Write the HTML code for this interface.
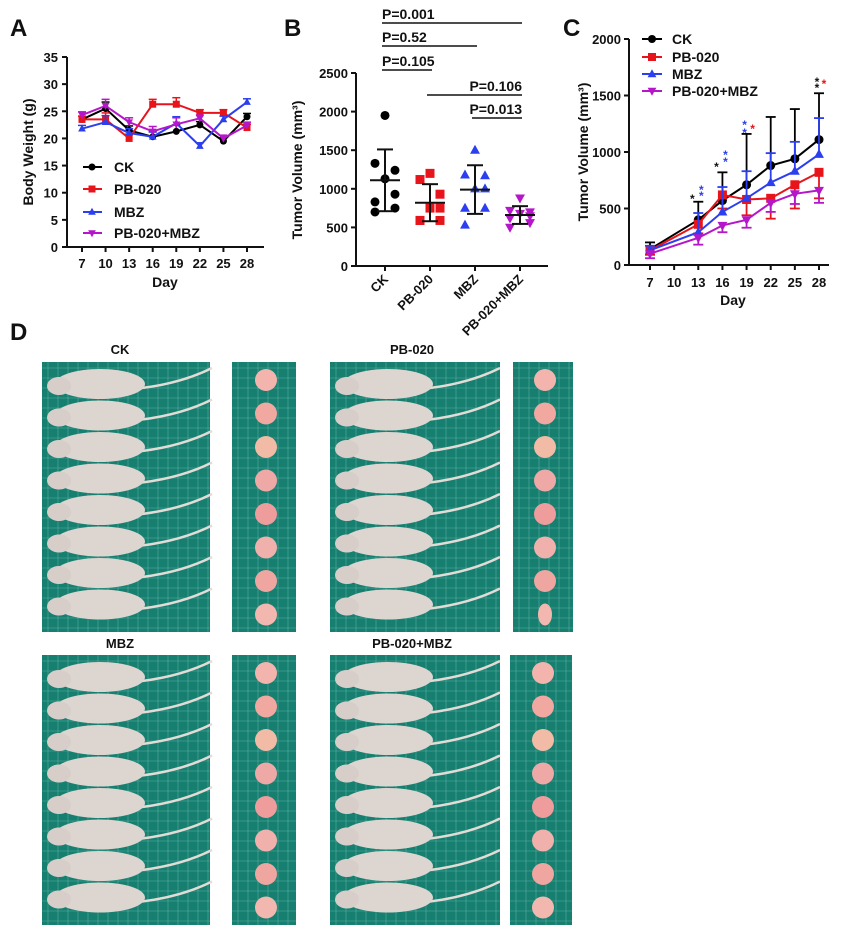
<!DOCTYPE html>
<html><head><meta charset="utf-8"><style>
body{margin:0;background:#fff}
svg text{font-family:"Liberation Sans",Arial,sans-serif;font-weight:bold;fill:#111}
</style></head><body>
<svg id="fig" width="844" height="933" viewBox="0 0 844 933" xmlns="http://www.w3.org/2000/svg">
<g id="pA"></g>
<g id="pB"></g>
<g id="pC"></g>
<g id="pD"></g>
</svg>
<script>
// ---- Panel A data
const daysA=[7,10,13,16,19,22,25,28];
const ytA=[0,5,10,15,20,25,30,35];
const bwCK=[23.5,25.5,21.5,20.3,21.3,22.5,19.5,24];
const bwPB=[23.5,23.5,20,26.3,26.3,24.7,24.7,22];
const bwMBZ=[21.8,23,21,20.3,22.8,18.6,23.5,26.7];
const bwCombo=[24.3,26,23,21.3,22.6,23.7,20,22.4];
const bwErr=[0.6,1.2,0.8,0.9,1.2,0.6,0.6,0.6];
// ---- Panel B data
const catsB=["CK","PB-020","MBZ","PB-020+MBZ"];
const ytB=[0,500,1000,1500,2000,2500];
const ptsCK=[1950,1330,1240,1130,930,830,750,700];
const ptsPB=[1200,1120,930,750,750,590,590,590];
const ptsMBZ=[1500,1180,1170,1000,1000,750,750,530];
const ptsCombo=[880,720,700,680,650,620,560,500];
const meanB=[1110,820,990,660];
const sdB=[400,240,315,115];
const pLabels=["P=0.001","P=0.52","P=0.105","P=0.106","P=0.013"];
const pPairs=[[0,3],[0,2],[0,1],[1,3],[2,3]];
// ---- Panel C data
const daysC=[7,13,16,19,22,25,28];
const xtC=[7,10,13,16,19,22,25,28];
const ytC=[0,500,1000,1500,2000];
const tvCK=[140,400,570,710,880,940,1110];
const tvPB=[130,360,620,580,590,710,820];
const tvMBZ=[130,290,470,590,730,830,980];
const tvCombo=[100,240,350,400,550,630,660];
const errCK=[60,160,250,450,430,440,410];
const errPB=[40,80,120,140,180,210,230];
const errMBZ=[40,170,220,240,260,260,320];
const errCombo=[40,60,60,70,80,90,110];

const NS="http://www.w3.org/2000/svg";
function mk(p,tag,a,txt){const e=document.createElementNS(NS,tag);for(const k in a)e.setAttribute(k,a[k]);if(txt!==undefined)e.textContent=txt;p.appendChild(e);return e;}
const colors={CK:"#000",PB:"#e8141b",MBZ:"#2b3ff0",Combo:"#b516c9"};
function marker(g,shape,x,y,c,s){
 let e;
 if(shape==="circle")e=mk(g,"circle",{cx:x,cy:y,r:s,fill:c});
 else if(shape==="square")e=mk(g,"rect",{x:x-s,y:y-s,width:2*s,height:2*s,fill:c});
 else if(shape==="tri")e=mk(g,"polygon",{points:`${x},${y-s*1.2} ${x-s*1.1},${y+s*0.8} ${x+s*1.1},${y+s*0.8}`,fill:c});
 else e=mk(g,"polygon",{points:`${x},${y+s*1.2} ${x-s*1.1},${y-s*0.8} ${x+s*1.1},${y-s*0.8}`,fill:c});
 
 
 return e;
}
const series=[["CK","circle"],["PB-020","square"],["MBZ","tri"],["PB-020+MBZ","tridown"]];
const sc=[colors.CK,colors.PB,colors.MBZ,colors.Combo];

// ===== Panel A
(function(){
 const g=document.getElementById('pA');
 const X=d=>82+(d-7)*(165/21), Y=v=>247-v*(190/35);
 mk(g,"text",{x:10,y:36,"font-size":24},"A");
 mk(g,"line",{x1:67,y1:57,x2:67,y2:247,stroke:"#111","stroke-width":2});
 mk(g,"line",{x1:66,y1:247,x2:264,y2:247,stroke:"#111","stroke-width":2});
 ytA.forEach(v=>{mk(g,"line",{x1:62,y1:Y(v),x2:67,y2:Y(v),stroke:"#111","stroke-width":2});
  mk(g,"text",{x:58,y:Y(v)+5,"font-size":13,"text-anchor":"end"},v);});
 daysA.forEach(d=>{mk(g,"line",{x1:X(d),y1:247,x2:X(d),y2:252,stroke:"#111","stroke-width":2});
  mk(g,"text",{x:X(d),y:268,"font-size":13,"text-anchor":"middle"},d);});
 mk(g,"text",{x:165,y:287,"font-size":14,"text-anchor":"middle"},"Day");
 mk(g,"text",{x:0,y:0,"font-size":14,"text-anchor":"middle",transform:"translate(33,152) rotate(-90)"},"Body Weight (g)");
 [bwCK,bwPB,bwMBZ,bwCombo].forEach((arr,i)=>{
  const s=mk(g,"g",{});
  
  
  mk(s,"polyline",{points:arr.map((v,j)=>X(daysA[j])+","+Y(v)).join(" "),fill:"none",stroke:sc[i],"stroke-width":2});
  arr.forEach((v,j)=>{const yy=Y(v+bwErr[j]);mk(s,"line",{x1:X(daysA[j]),y1:Y(v),x2:X(daysA[j]),y2:yy,stroke:sc[i],"stroke-width":1.5});mk(s,"line",{x1:X(daysA[j])-4,y1:yy,x2:X(daysA[j])+4,y2:yy,stroke:sc[i],"stroke-width":1.5});marker(s,series[i][1],X(daysA[j]),Y(v),sc[i],3.5);});
 });
 const ly=[167,189,212,233];
 series.forEach((s,i)=>{const le=mk(g,"g",{});
  mk(le,"line",{x1:83,y1:ly[i],x2:102,y2:ly[i],stroke:sc[i],"stroke-width":2});marker(le,s[1],92,ly[i],sc[i],3.5);
  mk(le,"text",{x:114,y:ly[i]+5,"font-size":14},s[0]);});
})();

// ===== Panel B
(function(){
 const g=document.getElementById('pB');
 const cx=[385,430,475,520], Y=v=>266-v*(193/2500);
 mk(g,"text",{x:284,y:36,"font-size":24},"B");
 mk(g,"line",{x1:356,y1:73,x2:356,y2:266,stroke:"#111","stroke-width":2});
 mk(g,"line",{x1:355,y1:266,x2:548,y2:266,stroke:"#111","stroke-width":2});
 ytB.forEach(v=>{mk(g,"line",{x1:351,y1:Y(v),x2:356,y2:Y(v),stroke:"#111","stroke-width":2});
  mk(g,"text",{x:348,y:Y(v)+5,"font-size":13,"text-anchor":"end"},v);});
 catsB.forEach((c,i)=>{mk(g,"line",{x1:cx[i],y1:266,x2:cx[i],y2:271,stroke:"#111","stroke-width":2});
  mk(g,"text",{x:0,y:0,"font-size":13,"text-anchor":"end",transform:`translate(${cx[i]+4},${280}) rotate(-45)`},c);});
 mk(g,"text",{x:0,y:0,"font-size":14,"text-anchor":"middle",transform:"translate(302,170) rotate(-90)"},"Tumor Volume (mm\u00B3)");
 [ptsCK,ptsPB,ptsMBZ,ptsCombo].forEach((arr,i)=>{
  const s=mk(g,"g",{});
  arr.forEach((v,j)=>{const dx=[ 0,-10,10,0,10,-10,10,-10][j];marker(s,series[i][1],cx[i]+dx,Y(v),sc[i],4.5);});
  const m=meanB[i],sd=sdB[i];
  mk(s,"line",{x1:cx[i],y1:Y(m+sd),x2:cx[i],y2:Y(m-sd),stroke:"#111","stroke-width":2});
  [m+sd,m-sd].forEach(v=>mk(s,"line",{x1:cx[i]-8,y1:Y(v),x2:cx[i]+8,y2:Y(v),stroke:"#111","stroke-width":2}));
  mk(s,"line",{x1:cx[i]-15,y1:Y(m),x2:cx[i]+15,y2:Y(m),stroke:"#111","stroke-width":2});
 });
 const py=[23,46,70,95,118];
 pPairs.forEach((p,i)=>{const x1=cx[p[0]]-3,x2=cx[p[1]]+2;
  const b=mk(g,"g",{});
  mk(b,"line",{x1:x1,y1:py[i],x2:x2,y2:py[i],stroke:"#111","stroke-width":1.5});
  if(i<3)mk(b,"text",{x:x1,y:py[i]-4,"font-size":14},pLabels[i]);
  else mk(b,"text",{x:x2,y:py[i]-4,"font-size":14,"text-anchor":"end"},pLabels[i]);});
})();

// ===== Panel C
(function(){
 const g=document.getElementById('pC');
 const X=d=>650+(d-7)*(169/21), Y=v=>265-v*(226/2000);
 mk(g,"text",{x:563,y:36,"font-size":24},"C");
 mk(g,"line",{x1:629,y1:39,x2:629,y2:265,stroke:"#111","stroke-width":2});
 mk(g,"line",{x1:628,y1:265,x2:829,y2:265,stroke:"#111","stroke-width":2});
 ytC.forEach(v=>{mk(g,"line",{x1:624,y1:Y(v),x2:629,y2:Y(v),stroke:"#111","stroke-width":2});
  mk(g,"text",{x:621,y:Y(v)+5,"font-size":13,"text-anchor":"end"},v);});
 xtC.forEach(d=>{mk(g,"line",{x1:X(d),y1:265,x2:X(d),y2:270,stroke:"#111","stroke-width":2});
  mk(g,"text",{x:X(d),y:287,"font-size":13,"text-anchor":"middle"},d);});
 mk(g,"text",{x:733,y:305,"font-size":14,"text-anchor":"middle"},"Day");
 mk(g,"text",{x:0,y:0,"font-size":14,"text-anchor":"middle",transform:"translate(588,152) rotate(-90)"},"Tumor Volume (mm\u00B3)");
 const errs=[errCK,errPB,errMBZ,errCombo], dirs=[1,-1,1,-1];
 [tvCK,tvPB,tvMBZ,tvCombo].forEach((arr,i)=>{
  const s=mk(g,"g",{});
  arr.forEach((v,j)=>{const yy=Y(v+dirs[i]*errs[i][j]),x=X(daysC[j]);
   mk(s,"line",{x1:x,y1:Y(v),x2:x,y2:yy,stroke:sc[i],"stroke-width":1.8});mk(s,"line",{x1:x-5,y1:yy,x2:x+5,y2:yy,stroke:sc[i],"stroke-width":1.8});});
  mk(s,"polyline",{points:arr.map((v,j)=>X(daysC[j])+","+Y(v)).join(" "),fill:"none",stroke:sc[i],"stroke-width":2});
  arr.forEach((v,j)=>marker(s,series[i][1],X(daysC[j]),Y(v),sc[i],4.5));
 });
 const ly=[39,57,74,91];
 series.forEach((s,i)=>{const le=mk(g,"g",{});
  mk(le,"line",{x1:642,y1:ly[i],x2:662,y2:ly[i],stroke:sc[i],"stroke-width":2});marker(le,s[1],652,ly[i],sc[i],4);
  mk(le,"text",{x:672,y:ly[i]+5,"font-size":14},s[0]);});
 const stars=[[13,-6,"#111",203],[13,3,"#2b3ff0",200],[13,3,"#2b3ff0",194],[16,-6,"#111",171],[16,3,"#2b3ff0",166],[16,3,"#2b3ff0",159],
  [19,-2,"#2b3ff0",137],[19,-2,"#2b3ff0",129],[19,6,"#e8141b",133],[28,-2,"#111",92],[28,-2,"#111",86],[28,5,"#e8141b",88]];
 stars.forEach(s=>{const t=mk(g,"text",{x:X(s[0])+s[1],y:s[3],"font-size":12,"text-anchor":"middle",style:"fill:"+s[2]},"*");
  });
})();

// ===== Panel D photos
(function(){
 const g=document.getElementById('pD');
 mk(g,"text",{x:10,y:340,"font-size":24},"D");
 const titles=[["CK",120,354],["PB-020",412,354],["MBZ",120,648],["PB-020+MBZ",412,648]];
 titles.forEach(t=>{const e=mk(g,"text",{x:t[1],y:t[2],"font-size":13,"text-anchor":"middle"},t[0]);});
 const mats=[[42,362,168,270],[330,362,170,270],[42,655,168,270],[330,655,170,270]];
 const strips=[[232,362,64,270],[513,362,60,270],[232,655,64,270],[510,655,62,270]];
 function grid(el,x,y,w,h){
  mk(el,"rect",{x:x,y:y,width:w,height:h,fill:"#177f70"});
  for(let gx=x+6;gx<x+w;gx+=10)mk(el,"line",{x1:gx,y1:y,x2:gx,y2:y+h,stroke:"#6fc2b2","stroke-width":0.6,opacity:0.7});
  for(let gy=y+6;gy<y+h;gy+=10)mk(el,"line",{x1:x,y1:gy,x2:x+w,y2:gy,stroke:"#6fc2b2","stroke-width":0.6,opacity:0.7});
 }
 mats.forEach((m,k)=>{const el=mk(g,"g",{});
  grid(el,...m);
  for(let i=0;i<8;i++){const cy=m[1]+22+i*31.5;
   mk(el,"path",{d:`M${m[0]+100} ${cy+4} q40 -5 70 -20`,stroke:"#e2dbd6","stroke-width":2.5,fill:"none"});
   mk(el,"ellipse",{cx:m[0]+58,cy:cy,rx:45,ry:15,fill:"#ddd5d0"});
   mk(el,"ellipse",{cx:m[0]+17,cy:cy+2,rx:12,ry:9,fill:"#d7ceca"});}
 });
 const tc=["#f2b4ac","#f0a8a0","#f2bba6","#eea8a6","#ee9c9c","#f0b0ac","#efa5a0","#f2b8b0"];
 strips.forEach((m,k)=>{const el=mk(g,"g",{});
  grid(el,...m);
  for(let i=0;i<8;i++){const cy=m[1]+18+i*33.5;mk(el,"ellipse",{cx:m[0]+m[2]/2+2,cy:cy,rx:11-(k===1&&i===7?4:0),ry:11,fill:tc[i]});}
 });
})();
</script>
</body></html>
